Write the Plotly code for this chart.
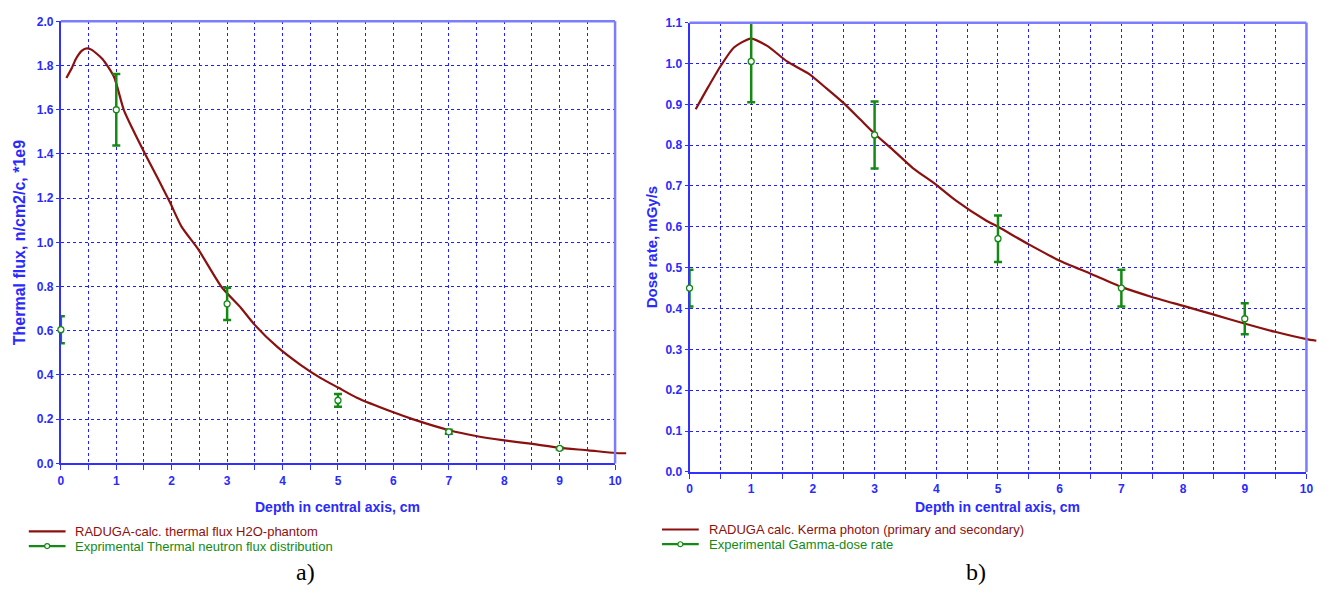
import plotly.graph_objects as go

W, H = 1334, 600

# ---- panel a: thermal neutron flux along the central axis ----
depth_calc_a = [0.1, 0.2, 0.27, 0.38, 0.47, 0.55, 0.75, 0.96, 1.135, 1.31, 1.52, 1.76,
                1.97, 2.18, 2.48, 2.9, 3.25, 3.49, 3.91, 4.33, 4.69, 5.01, 5.34, 6.0,
                6.36, 7.01, 7.49, 7.97, 8.51, 8.98, 9.52, 10.0, 10.2]
flux_calc = [1.744, 1.79, 1.83, 1.868, 1.878, 1.872, 1.83, 1.748, 1.60, 1.505, 1.40, 1.284,
             1.18, 1.07, 0.968, 0.798, 0.703, 0.629, 0.526, 0.445, 0.386, 0.342, 0.297, 0.231,
             0.199, 0.150, 0.124, 0.105, 0.088, 0.071, 0.059, 0.047, 0.046]
depth_exp_a = [0, 1, 3, 5, 7, 9]
flux_exp = [0.605, 1.60, 0.722, 0.285, 0.143, 0.068]
flux_err = [0.061, 0.162, 0.073, 0.029, 0.009, 0.004]

# ---- panel b: gamma dose rate along the central axis ----
depth_calc_b = [0.1, 0.29, 0.51, 0.72, 0.99, 1.26, 1.58, 1.93, 2.22, 2.49, 2.76, 3.0,
                3.3, 3.62, 3.99, 4.32, 4.8, 5.0, 5.5, 6.0, 6.49, 7.0, 7.48, 7.99, 8.5,
                8.98, 9.49, 10.0, 10.16]
dose_calc = [0.888, 0.939, 0.995, 1.039, 1.061, 1.043, 1.005, 0.975, 0.939, 0.904, 0.864, 0.828,
             0.788, 0.744, 0.704, 0.664, 0.616, 0.600, 0.557, 0.517, 0.486, 0.453, 0.429, 0.407, 0.385,
             0.364, 0.343, 0.325, 0.321]
depth_exp_b = [0, 1, 3, 5, 7, 9]
dose_exp = [0.450, 1.005, 0.825, 0.571, 0.450, 0.375]
dose_err = [0.045, 0.100, 0.082, 0.057, 0.045, 0.038]

x_title = "Depth in central axis, cm"
y_title_a = "Thermal flux, n/cm2/c, *1e9"
y_title_b = "Dose rate, mGy/s"
legend_a = ["RADUGA-calc. thermal flux H2O-phantom", "Exprimental Thermal neutron flux distribution"]
legend_b = ["RADUGA calc. Kerma photon (primary and secondary)", "Experimental Gamma-dose rate"]

GRID = "#1f1fff"
AXIS = "#3030ff"
FRAME = "#7c7cff"
TXT = "#2a2aff"
CURVE = "#8b1010"
EXP = "#148a14"
FONT = "Liberation Sans, Arial, sans-serif"


def fx(p):
    return p / W


def fy(p):
    return 1 - p / H


fig = go.Figure()
shapes, annotations = [], []

panels = [
    dict(ax="", ov="3", left=58.3, right=616.7, top=14.7, bottom=467.3, ymax=2.0, ydt=0.2,
         xc=depth_calc_a, yc=flux_calc, xe=depth_exp_a, ye=flux_exp, ee=flux_err,
         ytitle=y_title_a, ytx=16, ytsize=16, leg=legend_a, leg_x=26, leg_y=537,
         tag="a)", tag_x=305),
    dict(ax="2", ov="4", left=691.7, right=1313.3, top=16, bottom=476, ymax=1.1, ydt=0.1,
         xc=depth_calc_b, yc=dose_calc, xe=depth_exp_b, ye=dose_exp, ee=dose_err,
         ytitle=y_title_b, ytx=653, ytsize=15, leg=legend_b, leg_x=664, leg_y=535,
         tag="b)", tag_x=980),
]

XMAX_OV = 10.25
for p in panels:
    dom_x = [fx(p["left"]), fx(p["right"])]
    dom_y = [fy(p["bottom"]), fy(p["top"])]
    ov_right = p["left"] + (p["right"] - p["left"]) * XMAX_OV / 10
    dom_x_ov = [fx(p["left"]), fx(ov_right)]

    # axes carrying the grid, ticks and labels
    fig.update_layout(**{
        "xaxis" + p["ax"]: dict(
            domain=dom_x, anchor="y" + p["ax"], range=[0, 10], dtick=1, tick0=0,
            showgrid=True, gridcolor=GRID, gridwidth=1, griddash="3px,3px",
            showline=True, linecolor=AXIS, linewidth=2, zeroline=False,
            ticks="outside", ticklen=5, tickcolor=AXIS, tickwidth=1,
            tickfont=dict(family=FONT, size=12, color=TXT, weight="bold"),
            minor=dict(dtick=0.5, tick0=0, showgrid=True, gridcolor=GRID, gridwidth=1,
                       griddash="3px,3px", ticks="outside", ticklen=5, tickcolor=AXIS),
            fixedrange=True),
        "yaxis" + p["ax"]: dict(
            domain=dom_y, anchor="x" + p["ax"], range=[0, p["ymax"]], dtick=p["ydt"], tick0=0,
            tickformat=".1f",
            showgrid=True, gridcolor=GRID, gridwidth=1, griddash="3px,3px",
            showline=True, linecolor=AXIS, linewidth=2, zeroline=False,
            ticks="outside", ticklen=3, tickcolor=AXIS,
            tickfont=dict(family=FONT, size=12, color=TXT, weight="bold"),
            fixedrange=True),
        # hidden axes for the traces, wide enough to let the curve run past x = 10
        "xaxis" + p["ov"]: dict(domain=dom_x_ov, anchor="y" + p["ov"], range=[0, XMAX_OV],
                                visible=False, fixedrange=True),
        "yaxis" + p["ov"]: dict(domain=dom_y, anchor="x" + p["ov"], range=[0, p["ymax"]],
                                visible=False, fixedrange=True),
    })
    fig.add_trace(go.Scatter(x=[], y=[], xaxis="x" + p["ax"], yaxis="y" + p["ax"],
                             showlegend=False, hoverinfo="skip"))

    fig.add_trace(go.Scatter(
        x=p["xc"], y=p["yc"], mode="lines",
        line=dict(color=CURVE, width=2.2, shape="spline", smoothing=0.6),
        xaxis="x" + p["ov"], yaxis="y" + p["ov"], showlegend=False, name=p["leg"][0]))
    fig.add_trace(go.Scatter(
        x=p["xe"], y=p["ye"], mode="markers", cliponaxis=False,
        error_y=dict(type="data", array=p["ee"], color=EXP, thickness=2.5, width=4),
        marker=dict(symbol="circle", size=6, color="white", line=dict(color=EXP, width=1.3)),
        xaxis="x" + p["ov"], yaxis="y" + p["ov"], showlegend=False, name=p["leg"][1]))

    # lighter top and right frame lines
    shapes.append(dict(type="line", xref="paper", yref="paper", x0=dom_x[0], x1=dom_x[1],
                       y0=dom_y[1], y1=dom_y[1], line=dict(color=FRAME, width=2.5), layer="above"))
    shapes.append(dict(type="line", xref="paper", yref="paper", x0=dom_x[1], x1=dom_x[1],
                       y0=dom_y[0], y1=dom_y[1], line=dict(color=FRAME, width=2.5), layer="above"))

    # axis titles
    annotations.append(dict(text=p["ytitle"], x=fx(p["ytx"]), y=(dom_y[0] + dom_y[1]) / 2,
                            xref="paper", yref="paper", textangle=-90, showarrow=False,
                            xanchor="center", yanchor="middle",
                            font=dict(family=FONT, size=p["ytsize"], color=TXT, weight="bold")))
    annotations.append(dict(text=x_title, x=(dom_x[0] + dom_x[1]) / 2, y=fy(512),
                            xref="paper", yref="paper", showarrow=False,
                            xanchor="center", yanchor="middle",
                            font=dict(family=FONT, size=14, color=TXT, weight="bold")))

    # legend rows
    lx0, lx1 = p["leg_x"], p["leg_x"] + 37
    for i, (txt, col) in enumerate(zip(p["leg"], [CURVE, EXP])):
        yy = p["leg_y"] + i * 15
        shapes.append(dict(type="line", xref="paper", yref="paper", x0=fx(lx0), x1=fx(lx1),
                           y0=fy(yy), y1=fy(yy), line=dict(color=col, width=2.2)))
        if i == 1:
            cx = (lx0 + lx1) / 2
            shapes.append(dict(type="circle", xref="paper", yref="paper",
                               x0=fx(cx - 2.5), x1=fx(cx + 2.5), y0=fy(yy + 2.5), y1=fy(yy - 2.5),
                               fillcolor="white", line=dict(color=col, width=1.2)))
        annotations.append(dict(text=txt, x=fx(lx1 + 8), y=fy(yy), xref="paper", yref="paper",
                                showarrow=False, xanchor="left", yanchor="middle",
                                font=dict(family=FONT, size=13, color=col)))

    annotations.append(dict(text=p["tag"], x=fx(p["tag_x"]), y=fy(578), xref="paper", yref="paper",
                            showarrow=False, xanchor="center", yanchor="middle",
                            font=dict(family="Liberation Serif, Times New Roman, serif",
                                      size=24, color="black")))

fig.update_layout(
    width=W, height=H, margin=dict(l=0, r=0, t=0, b=0),
    paper_bgcolor="white", plot_bgcolor="rgba(0,0,0,0)",
    showlegend=False, shapes=shapes, annotations=annotations,
)

fig.write_html("out.html")
